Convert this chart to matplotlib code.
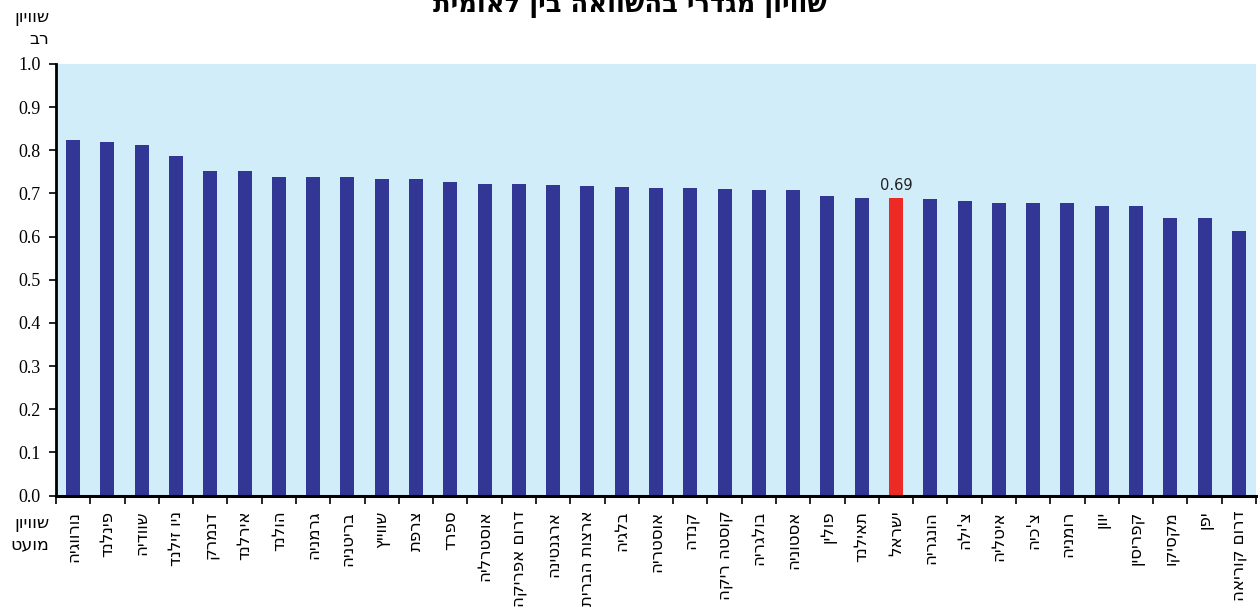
import numpy as np
import matplotlib
matplotlib.use("Agg")
from matplotlib import pyplot as plt

# countries, in logical (reading) order
countries = ["נורווגיה", "פינלנד", "שוודיה", "ניו זילנד", "דנמרק", "אירלנד", "הולנד",
             "גרמניה", "בריטניה", "שווייץ", "צרפת", "ספרד", "אוסטרליה", "דרום אפריקה",
             "ארגנטינה", "ארצות הברית", "בלגיה", "אוסטריה", "קנדה", "קוסטה ריקה",
             "בולגריה", "אסטוניה", "פולין", "תאילנד", "ישראל", "הונגריה", "צ'ילה",
             "איטליה", "צ'כיה", "רומניה", "יוון", "קפריסין", "מקסיקו", "יפן", "דרום קוריאה"]
values = [0.823, 0.820, 0.813, 0.786, 0.753, 0.751, 0.739, 0.739, 0.737, 0.734, 0.734,
          0.727, 0.723, 0.723, 0.720, 0.718, 0.716, 0.713, 0.713, 0.711, 0.707, 0.707,
          0.695, 0.690, 0.690, 0.686, 0.682, 0.679, 0.677, 0.677, 0.672, 0.670, 0.644,
          0.644, 0.614]
highlight = "ישראל"
highlight_label = "0.69"
yticks = [0.0, 0.1, 0.2, 0.3, 0.4, 0.5, 0.6, 0.7, 0.8, 0.9, 1.0]

title = "שוויון מגדרי בהשוואה בין לאומית"
top_note = "שוויון\nרב"
bottom_note = "שוויון\nמועט"

def vis(s):
    # matplotlib has no bidi: flip each line for right-to-left display
    return "\n".join(line[::-1] for line in s.split("\n"))

navy = "#323694"
red = "#EE2A24"
bg = "#D1EDFA"

W, H = 1258, 607
fig = plt.figure(figsize=(W / 100, H / 100), dpi=100)
ax = fig.add_axes([56 / W, 1 - 495.5 / H, 1200 / W, 431.5 / H])
ax.set_facecolor(bg)

x = np.arange(len(countries))
colors = [red if c == highlight else navy for c in countries]
ax.bar(x, values, width=0.41, color=colors, zorder=2)

i = countries.index(highlight)
ax.text(x[i], values[i] + 0.012, highlight_label, ha="center", va="bottom",
        fontsize=10.5, family="DejaVu Sans", color="#222222")

ax.set_xlim(-0.5, len(countries) - 0.5)
ax.set_ylim(0, 1.0)
ax.set_yticks(yticks)
ax.set_yticklabels([f"{v:.1f}" for v in yticks], family="Liberation Serif", fontsize=13)

# ticks at category boundaries, labels under each bar (rotated up, read top-down)
ax.set_xticks(np.arange(len(countries) + 1) - 0.5)
ax.set_xticklabels([])
ax.set_xticks(x, minor=True)
ax.set_xticklabels([vis(c) for c in countries], minor=True, rotation=90,
                   ha="center", va="top", fontsize=12, family="DejaVu Sans")
ax.tick_params(axis="x", which="minor", length=0, pad=11)
ax.tick_params(axis="x", which="major", length=6, width=1.2, direction="out")
ax.tick_params(axis="y", length=5, width=1.2, direction="out", pad=6)

for s in ["top", "right"]:
    ax.spines[s].set_visible(False)
ax.spines["left"].set_linewidth(2)
ax.spines["bottom"].set_linewidth(2.2)

fig.text(630 / W, 1 - 12 / H, vis(title), ha="center", va="baseline",
         fontsize=18.5, fontweight="bold", family="DejaVu Sans")
fig.text(49 / W, 1 - 8 / H, vis(top_note), ha="right", va="top",
         fontsize=12.5, family="DejaVu Sans", linespacing=1.25)
fig.text(49 / W, 1 - 514 / H, vis(bottom_note), ha="right", va="top",
         fontsize=12.5, family="DejaVu Sans", linespacing=1.25)

fig.savefig("out.png", dpi=100)
